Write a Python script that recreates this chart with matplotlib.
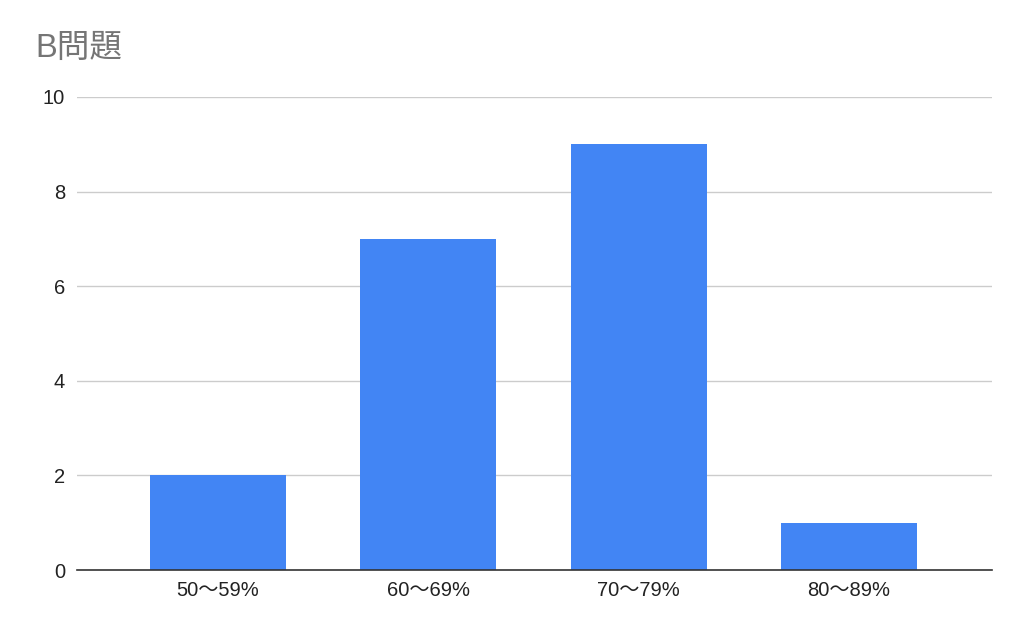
import matplotlib
matplotlib.use("Agg")
import matplotlib.pyplot as plt

categories = ["50～59%", "60～69%", "70～79%", "80～89%"]
counts = [2, 7, 9, 1]
yticks = [0, 2, 4, 6, 8, 10]

plt.rcParams["font.family"] = ["Liberation Sans", "Noto Sans CJK JP", "DejaVu Sans"]

fig = plt.figure(figsize=(10.24, 6.33), dpi=100)
# axes box in pixels: left 77, right 992, top 97, bottom 570
ax = fig.add_axes([77 / 1024, 1 - 570 / 633, (992 - 77) / 1024, (570 - 97) / 633])

x = list(range(len(categories)))
ax.bar(x, counts, width=0.646, color="#4285F4", zorder=3)

ax.set_xlim(-0.67, 3.68)
ax.set_ylim(0, 10)
ax.set_yticks(yticks)
ax.set_xticks(x)
ax.set_xticklabels(categories)
ax.tick_params(axis="both", length=0, labelsize=14.5, colors="#222222")
ax.tick_params(axis="x", pad=8)
ax.tick_params(axis="y", pad=8.5)

ax.grid(axis="y", color="#cccccc", linewidth=1, zorder=0)
for side in ["top", "right", "left"]:
    ax.spines[side].set_visible(False)
ax.spines["bottom"].set_color("#333333")
ax.spines["bottom"].set_linewidth(1.2)
ax.spines["bottom"].set_zorder(4)

fig.text(35 / 1024, 1 - 48 / 633, "B問題", fontsize=23.5, color="#757575",
         va="center", ha="left")

fig.savefig("out.png", dpi=100)
